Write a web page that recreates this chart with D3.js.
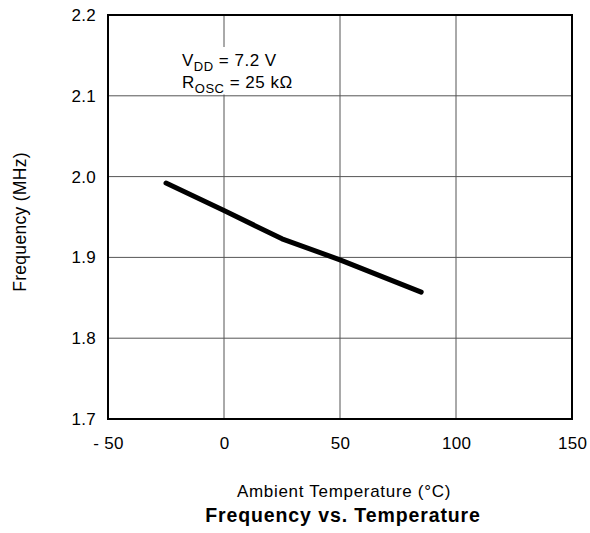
<!DOCTYPE html>
<html>
<head>
<meta charset="utf-8">
<script src="https://cdn.jsdelivr.net/npm/d3@7"></script>
<style>
  body { margin: 0; background: #fff; }
  svg { font-family: "Liberation Sans", Arial, Helvetica, sans-serif; }
</style>
</head>
<body>
<div id="chart"></div>
<script>
// Data
const temps = [-25, 0, 25, 50, 85];
const freqs = [1.992, 1.958, 1.923, 1.897, 1.857];
const xTicks = [-50, 0, 50, 100, 150];
const xTickLabels = ['- 50', '0', '50', '100', '150'];
const yTicks = [1.7, 1.8, 1.9, 2.0, 2.1, 2.2];

const svgWidth = 590, svgHeight = 533;
const margin = { top: 15, right: 18, bottom: 114, left: 108 };
const width = svgWidth - margin.left - margin.right;
const height = svgHeight - margin.top - margin.bottom;

const svg = d3.select('#chart')
    .append('svg')
    .attr('width', svgWidth)
    .attr('height', svgHeight);

const g = svg.append('g')
    .attr('transform', `translate(${margin.left},${margin.top})`);

// Scales
const x = d3.scaleLinear().domain([-50, 150]).range([0, width]);
const y = d3.scaleLinear().domain([1.7, 2.2]).range([height, 0]);

// Grid
g.selectAll('.vgrid')
    .data(xTicks.slice(1, -1))
    .enter()
    .append('line')
    .attr('x1', d => x(d)).attr('x2', d => x(d))
    .attr('y1', 0).attr('y2', height)
    .attr('stroke', '#555')
    .attr('stroke-width', 1);
g.selectAll('.hgrid')
    .data(yTicks.slice(1, -1))
    .enter()
    .append('line')
    .attr('x1', 0).attr('x2', width)
    .attr('y1', d => y(d)).attr('y2', d => y(d))
    .attr('stroke', '#555')
    .attr('stroke-width', 1);

// Annotation box (white background hides grid behind it)
g.append('rect')
    .attr('x', 62).attr('y', 32)
    .attr('width', 130).attr('height', 47.5)
    .attr('fill', '#fff');

function note(yPos, main, sub, rest) {
    const t = g.append('text')
        .attr('x', 74)
        .attr('y', yPos)
        .style('font-size', '17px')
        .style('letter-spacing', '0.5px')
        .attr('fill', '#000');
    t.append('tspan').text(main);
    t.append('tspan').attr('dy', 4.5).style('font-size', '13px').text(sub);
    t.append('tspan').attr('dy', -4.5).text(rest);
}
note(51, 'V', 'DD', ' = 7.2 V');
note(73, 'R', 'OSC', ' = 25 k\u03A9');

// Series line
const line = d3.line()
    .x((d, i) => x(temps[i]))
    .y(d => y(d));
g.append('path')
    .datum(freqs)
    .attr('d', line)
    .attr('fill', 'none')
    .attr('stroke', '#000')
    .attr('stroke-width', 5)
    .attr('stroke-linecap', 'round')
    .attr('stroke-linejoin', 'round');

// Frame
g.append('rect')
    .attr('x', 0).attr('y', 0)
    .attr('width', width).attr('height', height)
    .attr('fill', 'none')
    .attr('stroke', '#000')
    .attr('stroke-width', 2);

// Axes (labels only)
const xAxis = g.append('g')
    .attr('transform', `translate(0,${height})`)
    .call(d3.axisBottom(x).tickValues(xTicks).tickSize(0).tickPadding(18)
        .tickFormat((d, i) => xTickLabels[i]));
const yAxis = g.append('g')
    .call(d3.axisLeft(y).tickValues(yTicks).tickSize(0).tickPadding(12)
        .tickFormat(d3.format('.1f')));
[xAxis, yAxis].forEach(a => {
    a.select('.domain').remove();
    a.selectAll('text')
        .style('font-family', '"Liberation Sans", Arial, sans-serif')
        .style('font-size', '17px')
        .style('letter-spacing', '0.3px')
        .attr('fill', '#000');
});

// Axis titles
svg.append('text')
    .attr('transform', `translate(26,222) rotate(-90)`)
    .attr('text-anchor', 'middle')
    .style('font-size', '17.5px')
    .style('letter-spacing', '0.3px')
    .text('Frequency (MHz)');

svg.append('text')
    .attr('x', 344)
    .attr('y', 497)
    .attr('text-anchor', 'middle')
    .style('font-size', '17px')
    .style('letter-spacing', '0.7px')
    .text('Ambient Temperature (\u00B0C)');

svg.append('text')
    .attr('x', 343)
    .attr('y', 522)
    .attr('text-anchor', 'middle')
    .style('font-size', '19.5px')
    .style('letter-spacing', '0.9px')
    .style('font-weight', 'bold')
    .text('Frequency vs. Temperature');
</script>
</body>
</html>
